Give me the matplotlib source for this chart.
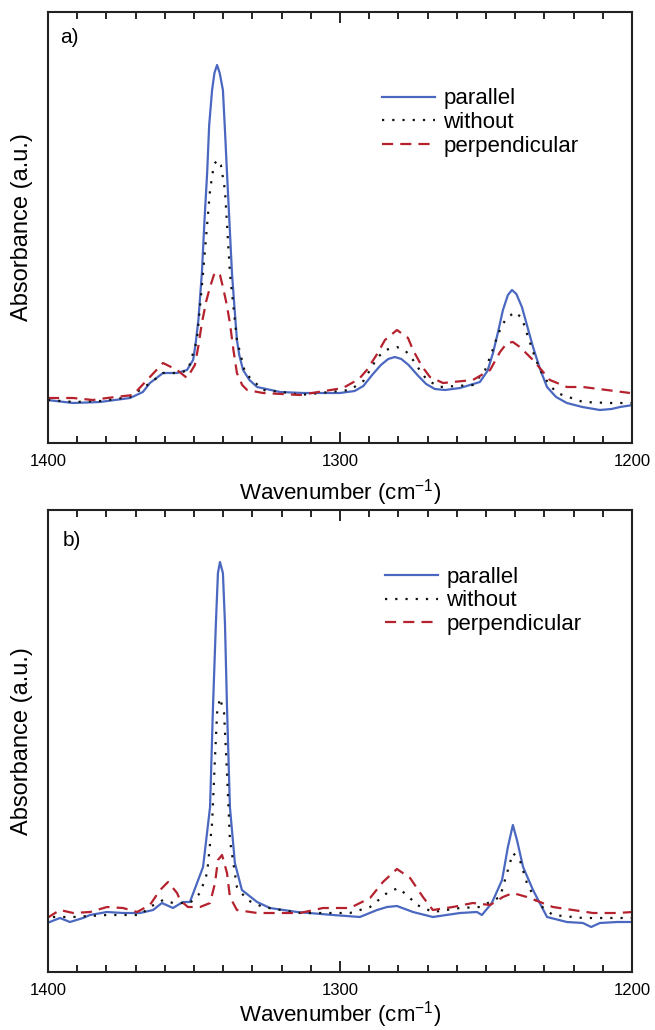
import matplotlib
matplotlib.use("Agg")
import matplotlib.pyplot as plt
from matplotlib.ticker import MultipleLocator

plt.rcParams['font.family'] = ['Liberation Sans', 'DejaVu Sans']
plt.rcParams['mathtext.default'] = 'regular'

# ---------------- Panel a ----------------
a_par_x = [1400.3, 1391.4, 1382.2, 1371.9, 1367.5, 1365.1, 1360.6, 1355.8, 1352.4, 1350.3,
           1349.5, 1348.5, 1347.3, 1346.4, 1345.5, 1344.8, 1343.8, 1343.0, 1342.1, 1341.2,
           1340.1, 1339.4, 1338.7, 1337.9, 1337.0, 1336.2, 1335.3, 1334.5, 1333.2, 1331.0,
           1328.4, 1320.5, 1312.7, 1303.4, 1300.0, 1295.0, 1292.0, 1289.0, 1286.0, 1283.5,
           1281.2, 1279.0, 1276.5, 1273.5, 1270.5, 1267.5, 1264.0, 1258.9, 1252.1, 1249.5,
           1247.6, 1245.8, 1244.2, 1242.5, 1241.1, 1239.6, 1237.7, 1235.8, 1233.9, 1231.5,
           1229.1, 1226.0, 1222.3, 1217.0, 1211.0, 1207.0, 1204.1, 1199.7]
a_par_y = [0.43, 0.40, 0.41, 0.45, 0.51, 0.60, 0.70, 0.70, 0.73, 0.83,
           0.98, 1.23, 1.70, 2.23, 2.70, 3.18, 3.53, 3.70, 3.78, 3.70,
           3.53, 3.13, 2.70, 2.23, 1.70, 1.38, 1.03, 0.88, 0.73, 0.63,
           0.56, 0.51, 0.50, 0.50, 0.50, 0.52, 0.57, 0.68, 0.78, 0.84,
           0.86, 0.84, 0.78, 0.68, 0.59, 0.54, 0.53, 0.55, 0.61, 0.72,
           0.90, 1.12, 1.33, 1.48, 1.53, 1.49, 1.36, 1.16, 0.96, 0.74,
           0.56, 0.46, 0.40, 0.36, 0.33, 0.34, 0.36, 0.38]

a_wo_x = [1400.0, 1391.0, 1382.0, 1372.0, 1365.0, 1360.6, 1355.0, 1352.0, 1349.0, 1346.9,
          1344.5, 1343.2, 1342.1, 1340.8, 1339.4, 1337.7, 1335.3, 1332.5, 1326.4, 1317.1,
          1313.7, 1296.6, 1292.0, 1289.5, 1287.3, 1284.5, 1280.5, 1277.5, 1275.0, 1272.5,
          1270.2, 1265.8, 1254.5, 1250.3, 1248.2, 1246.2, 1244.5, 1242.8, 1240.1, 1237.7,
          1235.6, 1233.5, 1231.5, 1228.5, 1225.7, 1216.8, 1207.5, 1199.7]
a_wo_y = [0.43, 0.41, 0.42, 0.46, 0.60, 0.70, 0.70, 0.73, 1.03, 1.70,
          2.53, 2.78, 2.83, 2.78, 2.53, 1.70, 1.03, 0.70, 0.53, 0.50,
          0.48, 0.53, 0.62, 0.74, 0.85, 0.93, 0.96, 0.92, 0.83, 0.72,
          0.63, 0.56, 0.58, 0.73, 0.89, 1.06, 1.18, 1.25, 1.31, 1.25,
          1.06, 0.88, 0.73, 0.59, 0.50, 0.41, 0.40, 0.40]

a_per_x = [1400.0, 1391.4, 1384.6, 1379.8, 1370.9, 1365.1, 1360.6, 1355.8, 1352.4, 1349.7,
           1348.5, 1347.3, 1345.8, 1344.5, 1343.2, 1342.1, 1341.1, 1340.1, 1338.9, 1337.7,
           1336.5, 1335.3, 1333.5, 1331.8, 1326.4, 1313.7, 1299.0, 1293.5, 1290.8, 1287.5,
           1284.6, 1280.5, 1276.7, 1275.0, 1272.0, 1269.2, 1264.7, 1254.5, 1248.6, 1245.2,
           1242.8, 1240.8, 1238.4, 1233.9, 1228.1, 1222.3, 1216.8, 1208.6, 1200.7]
a_per_y = [0.45, 0.45, 0.43, 0.45, 0.48, 0.66, 0.80, 0.73, 0.65, 0.78,
           0.97, 1.20, 1.42, 1.56, 1.68, 1.71, 1.68, 1.56, 1.40, 1.20,
           0.93, 0.70, 0.58, 0.53, 0.50, 0.48, 0.55, 0.64, 0.73, 0.88,
           1.03, 1.13, 1.05, 0.93, 0.77, 0.66, 0.60, 0.63, 0.73, 0.91,
           1.00, 1.01, 0.96, 0.83, 0.63, 0.56, 0.56, 0.53, 0.50]

# ---------------- Panel b ----------------
b_par_x = [1400.3, 1395.9, 1392.5, 1388.0, 1385.6, 1379.8, 1374.3, 1368.5, 1364.0, 1361.0,
           1357.2, 1353.8, 1351.4, 1346.9, 1344.5, 1343.5, 1342.5, 1341.8, 1341.1, 1340.1,
           1339.4, 1338.7, 1337.7, 1336.0, 1333.6, 1328.4, 1324.0, 1314.7, 1302.4, 1293.2,
           1287.3, 1283.9, 1280.5, 1275.0, 1268.2, 1258.9, 1253.1, 1251.4, 1248.0, 1244.5,
           1242.5, 1240.8, 1239.4, 1237.3, 1233.9, 1229.1, 1222.3, 1216.8, 1214.0, 1211.0,
           1205.1, 1199.7]
b_par_y = [0.49, 0.54, 0.50, 0.54, 0.57, 0.60, 0.59, 0.59, 0.62, 0.69,
           0.64, 0.70, 0.70, 1.05, 1.65, 2.65, 3.49, 3.99, 4.10, 3.99,
           3.49, 2.65, 1.65, 1.09, 0.82, 0.70, 0.64, 0.60, 0.57, 0.55,
           0.62, 0.65, 0.66, 0.60, 0.55, 0.59, 0.60, 0.57, 0.69, 0.92,
           1.25, 1.47, 1.32, 1.05, 0.82, 0.55, 0.50, 0.49, 0.45, 0.49,
           0.50, 0.50]

b_wo_x = [1398.3, 1391.4, 1379.8, 1372.9, 1368.5, 1365.1, 1360.6, 1357.2, 1351.4, 1347.9,
          1345.5, 1343.8, 1342.8, 1342.1, 1341.1, 1339.7, 1338.7, 1337.7, 1335.3, 1331.8,
          1326.4, 1313.7, 1296.6, 1289.7, 1283.9, 1280.1, 1277.1, 1273.6, 1268.2, 1258.9,
          1252.1, 1245.2, 1242.8, 1240.8, 1238.4, 1236.0, 1232.5, 1227.1, 1216.8, 1199.7]
b_wo_y = [0.55, 0.55, 0.57, 0.57, 0.57, 0.65, 0.72, 0.69, 0.69, 0.79,
          0.99, 1.49, 2.15, 2.59, 2.74, 2.59, 1.99, 1.32, 0.85, 0.72,
          0.65, 0.59, 0.59, 0.65, 0.79, 0.84, 0.77, 0.67, 0.60, 0.64,
          0.65, 0.75, 0.99, 1.19, 1.12, 0.89, 0.69, 0.57, 0.54, 0.54]

b_per_x = [1400.3, 1395.9, 1391.4, 1385.6, 1379.8, 1374.3, 1369.5, 1365.1, 1361.6, 1358.9,
           1355.8, 1354.8, 1352.1, 1347.9, 1344.5, 1342.8, 1341.8, 1340.4, 1338.7, 1337.7,
           1335.3, 1328.4, 1313.7, 1305.8, 1296.6, 1289.7, 1285.3, 1280.5, 1276.0, 1271.6,
           1268.2, 1261.3, 1254.5, 1248.6, 1244.2, 1240.8, 1236.0, 1231.5, 1227.1, 1220.2,
           1213.4, 1205.1, 1199.7]
b_per_y = [0.54, 0.62, 0.59, 0.60, 0.65, 0.64, 0.60, 0.67, 0.82, 0.90,
           0.79, 0.72, 0.65, 0.65, 0.69, 0.89, 1.12, 1.17, 0.99, 0.75,
           0.62, 0.59, 0.59, 0.64, 0.64, 0.74, 0.90, 1.03, 0.94, 0.75,
           0.62, 0.65, 0.69, 0.67, 0.75, 0.79, 0.75, 0.70, 0.65, 0.62,
           0.59, 0.59, 0.60]

labels = ['parallel', 'without', 'perpendicular']
panel_names = ['a)', 'b)']
xticks = [1400, 1300, 1200]

BLUE = '#4a68c0'
RED = '#b5222e'
BLACK = '#111111'

W, H = 655, 1030
fig = plt.figure(figsize=(W / 100, H / 100), dpi=100)

def px_axes(left, top, right, bottom):
    return fig.add_axes([left / W, 1 - bottom / H, (right - left) / W, (bottom - top) / H])

ax_a = px_axes(48, 12, 632, 443)
ax_b = px_axes(48, 510, 632, 972)

panels = [
    (ax_a, (a_par_x, a_par_y), (a_wo_x, a_wo_y), (a_per_x, a_per_y), 4.31,
     (0.572, 0.823), -0.114, (0.02, 0.962)),
    (ax_b, (b_par_x, b_par_y), (b_wo_x, b_wo_y), (b_per_x, b_per_y), 4.62,
     (0.577, 0.877), -0.092, (0.025, 0.955)),
]

for i, (ax, par, wo, per, ytop, legpos, xl_y, lab_pos) in enumerate(panels):
    ax.plot(par[0], par[1], color=BLUE, lw=1.6, label=labels[0])
    ax.plot(wo[0], wo[1], color=BLACK, lw=1.6, ls=(0, (1, 3.6)), label=labels[1])
    ax.plot(per[0], per[1], color=RED, lw=1.6, ls=(0, (5, 3.2)), label=labels[2])
    ax.set_xlim(1400, 1200)
    ax.set_ylim(0, ytop)
    ax.set_xticks(xticks)
    ax.set_xticklabels([str(t) for t in xticks])
    ax.xaxis.set_minor_locator(MultipleLocator(10))
    ax.set_yticks([])
    ax.tick_params(axis='x', which='both', direction='in', top=True, bottom=True,
                   labelsize=12, pad=8, width=1.2)
    ax.tick_params(axis='x', which='major', length=8)
    ax.tick_params(axis='x', which='minor', length=5)
    for s in ax.spines.values():
        s.set_linewidth(1.5)
        s.set_color('#222222')
    ax.set_xlabel('Wavenumber (cm$^{-1}$)', fontsize=16, va='center')
    ax.xaxis.set_label_coords(0.5, xl_y)
    ax.set_ylabel('Absorbance (a.u.)', fontsize=17, va='center')
    ax.yaxis.set_label_coords(-0.044, 0.5)
    ax.text(lab_pos[0], lab_pos[1], panel_names[i], transform=ax.transAxes,
            fontsize=15, va='top', ha='left')
    ax.legend(loc='upper left', bbox_to_anchor=legpos, frameon=False, fontsize=16,
              handlelength=2.4, handletextpad=0.36, labelspacing=0.12, borderpad=0,
              borderaxespad=0)

fig.savefig('out.png', dpi=100)
